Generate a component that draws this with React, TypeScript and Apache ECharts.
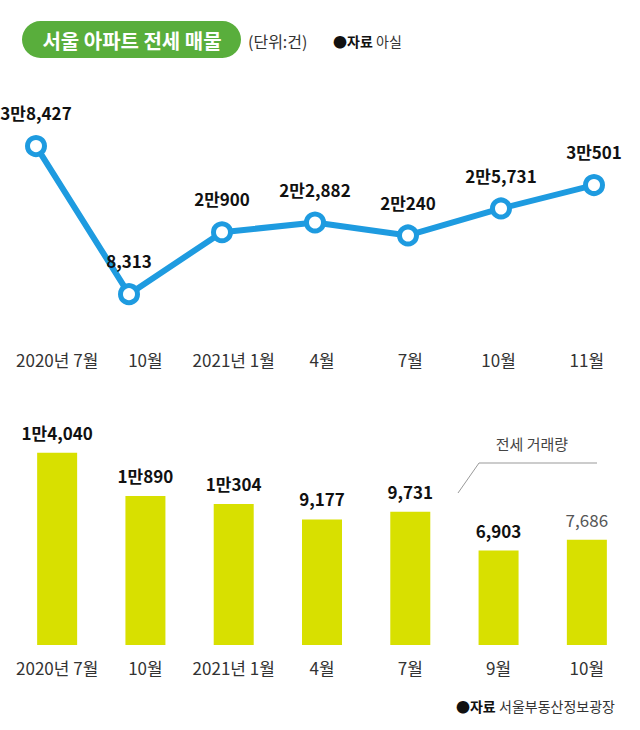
import React, { useEffect, useRef } from "react";
import * as echarts from "echarts";

const lineCategories = ["2020년 7월", "10월", "2021년 1월", "4월", "7월", "10월", "11월"];
const lineValues = [38427, 8313, 20900, 22882, 20240, 25731, 30501];

const barCategories = ["2020년 7월", "10월", "2021년 1월", "4월", "7월", "9월", "10월"];
const barValues = [14040, 10890, 10304, 9177, 9731, 6903, 7686];

const FONT = "'Noto Sans CJK KR', 'Noto Sans', sans-serif";

function fmtKo(v: number): string {
  const man = Math.floor(v / 10000);
  const rest = v % 10000;
  const restStr = rest.toLocaleString("en-US");
  return man > 0 ? `${man}만${restStr}` : restStr;
}

export default function App() {
  const ref = useRef<HTMLDivElement>(null);
  useEffect(() => {
    if (!ref.current) return;
    const chart = echarts.init(ref.current, null, { renderer: "svg" });
    const option: any = {
      animation: false,
      backgroundColor: "#ffffff",
      textStyle: { fontFamily: FONT },
      grid: [
        { left: 36, right: 46, top: 99, height: 236 },
        { left: 13, right: 9, top: 99, height: 236 },
        { left: 13, right: 9, top: 426, height: 219 },
      ],
      xAxis: [
        {
          type: "category",
          gridIndex: 0,
          data: lineCategories,
          boundaryGap: false,
          axisLine: { show: false },
          axisTick: { show: false },
          axisLabel: { show: false },
        },
        {
          type: "category",
          gridIndex: 1,
          data: lineCategories,
          boundaryGap: true,
          axisLine: { show: false },
          axisTick: { show: false },
          axisLabel: { color: "#333", fontSize: 17, margin: 16, interval: 0, fontFamily: FONT },
        },
        {
          type: "category",
          gridIndex: 2,
          data: barCategories,
          boundaryGap: true,
          axisLine: { show: false },
          axisTick: { show: false },
          axisLabel: { color: "#333", fontSize: 17, margin: 14, interval: 0, fontFamily: FONT },
        },
      ],
      yAxis: [
        { type: "value", gridIndex: 0, min: 0, max: 48000, show: false },
        { type: "value", gridIndex: 1, min: 0, max: 48000, show: false },
        { type: "value", gridIndex: 2, min: 0, max: 16000, show: false },
      ],
      series: [
        {
          type: "line",
          xAxisIndex: 0,
          yAxisIndex: 0,
          data: lineValues,
          symbol: "circle",
          symbolSize: 17,
          lineStyle: { color: "#1e9be0", width: 6 },
          itemStyle: { color: "#ffffff", borderColor: "#1e9be0", borderWidth: 5 },
          label: {
            show: true,
            position: "top",
            distance: 14,
            color: "#111",
            fontSize: 17,
            fontWeight: "bold",
            fontFamily: FONT,
            formatter: (p: any) => fmtKo(p.value),
          },
          z: 3,
        },
        {
          type: "bar",
          xAxisIndex: 2,
          yAxisIndex: 2,
          barWidth: 40,
          data: barValues.map((v, i) =>
            i === barValues.length - 1
              ? { value: v, label: { color: "#555", fontWeight: "normal" } }
              : v
          ),
          itemStyle: { color: "#d8e000" },
          label: {
            show: true,
            position: "top",
            distance: 12,
            color: "#111",
            fontSize: 17,
            fontWeight: "bold",
            fontFamily: FONT,
            formatter: (p: any) => fmtKo(p.value),
          },
        },
      ],
      graphic: [
        {
          type: "rect",
          shape: { x: 22, y: 21, width: 219, height: 37, r: 18.5 },
          style: { fill: "#59ae3c" },
        },
        {
          type: "text",
          x: 132,
          y: 40,
          style: {
            text: "서울 아파트 전세 매물",
            fill: "#ffffff",
            font: `bold 20px ${FONT}`,
            textAlign: "center",
            textVerticalAlign: "middle",
          },
        },
        {
          type: "text",
          x: 248,
          y: 41,
          style: {
            text: "(단위:건)",
            fill: "#333",
            font: `16px ${FONT}`,
            textAlign: "left",
            textVerticalAlign: "middle",
          },
        },
        {
          type: "text",
          x: 333,
          y: 41,
          style: {
            text: "{b|●자료} {n|아실}",
            textAlign: "left",
            textVerticalAlign: "middle",
            rich: {
              b: { fontSize: 14, fontWeight: "bold", fill: "#111", fontFamily: FONT },
              n: { fontSize: 14, fill: "#333", fontFamily: FONT },
            },
          },
        },
        {
          type: "text",
          x: 532,
          y: 443,
          style: {
            text: "전세 거래량",
            fill: "#444",
            font: `15px ${FONT}`,
            textAlign: "center",
            textVerticalAlign: "middle",
          },
        },
        {
          type: "polyline",
          shape: { points: [[458, 493], [479, 463], [597, 463]] },
          style: { stroke: "#999", lineWidth: 1, fill: "none" },
        },
        {
          type: "text",
          x: 615,
          y: 706,
          style: {
            text: "{b|●자료} {n|서울부동산정보광장}",
            textAlign: "right",
            textVerticalAlign: "middle",
            rich: {
              b: { fontSize: 14, fontWeight: "bold", fill: "#111", fontFamily: FONT },
              n: { fontSize: 14, fill: "#333", fontFamily: FONT },
            },
          },
        },
      ],
    };
    chart.setOption(option);
    return () => chart.dispose();
  }, []);
  return (
    <div
      ref={ref}
      style={{ position: "absolute", left: 0, top: 0, width: 640, height: 730 }}
    />
  );
}
